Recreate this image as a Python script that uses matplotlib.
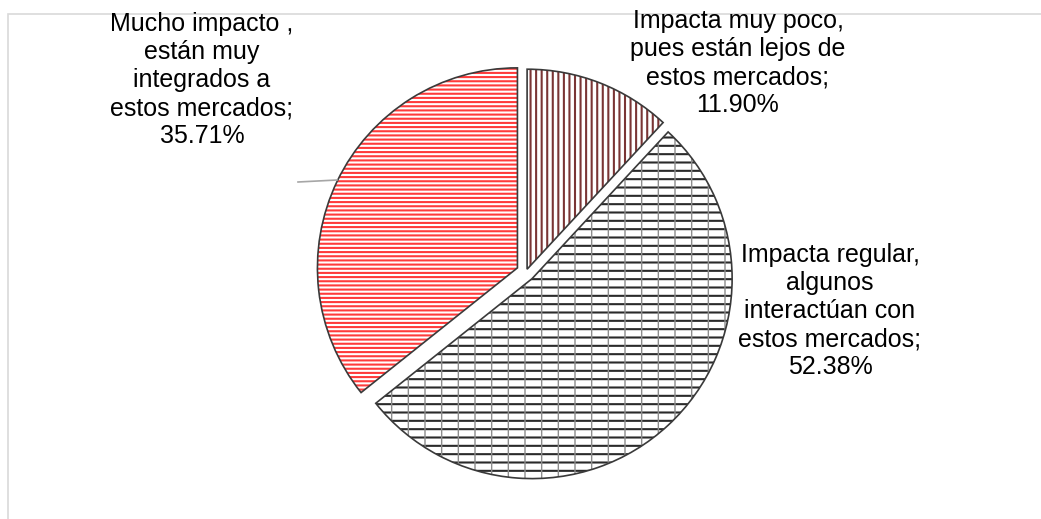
import matplotlib
matplotlib.use("Agg")
import matplotlib.pyplot as plt
from matplotlib.patches import Rectangle

# ---- data ----
categories = [
    "Impacta muy poco,\npues están lejos de\nestos mercados;",
    "Impacta regular,\nalgunos\ninteractúan con\nestos mercados;",
    "Mucho impacto ,\nestán muy\nintegrados a\nestos mercados;",
]
values = [11.90, 52.38, 35.71]

# ---- styles ----
hatches = ["|||", "--", "----"]
hatch_colors = ["#7a3535", "#2a2a2a", "#ff3b3b"]
label_pos = [(738, 456), (830, 208), (202, 439)]

W, H = 1041, 519
fig = plt.figure(figsize=(W / 100, H / 100), dpi=100)
ax = fig.add_axes([0, 0, 1, 1])

center = (526, 247)
radius = 200
explode = [3, 9, 9.5]

wedges, _ = ax.pie(values, radius=radius, center=center, startangle=90,
                   counterclock=False, explode=explode, frame=True,
                   wedgeprops=dict(facecolor="white", linewidth=0))
for w, h, c in zip(wedges, hatches, hatch_colors):
    w.set_hatch(h)
    w.set_edgecolor(c)
    w.set_linewidth(0)
    if hasattr(w, "set_hatch_linewidth"):
        w.set_hatch_linewidth(1.5)

# light vertical ticks texture for the middle slice
tex, _ = ax.pie(values, radius=radius, center=center, startangle=90,
                counterclock=False, explode=explode, frame=True,
                wedgeprops=dict(fill=False, linewidth=0))
for i, w in enumerate(tex):
    if i == 1:
        w.set_hatch("|")
        w.set_edgecolor("#8c8c8c")
        if hasattr(w, "set_hatch_linewidth"):
            w.set_hatch_linewidth(1.0)
    else:
        w.set_visible(False)

outl, _ = ax.pie(values, radius=radius, center=center, startangle=90,
                 counterclock=False, explode=explode, frame=True,
                 wedgeprops=dict(fill=False, edgecolor="#3a3a3a", linewidth=1.2))

# labels
for cat, v, (x, y) in zip(categories, values, label_pos):
    ax.text(x, y, f"{cat}\n{v:.2f}%", ha="center", va="center",
            fontsize=18, family=["Liberation Sans", "DejaVu Sans"],
            linespacing=1.22, color="black")

# leader line for the left label
ax.plot([298, 337], [337, 339], color="#a6a6a6", lw=1.2)

ax.set_xlim(0, W)
ax.set_ylim(0, H)
ax.set_aspect("equal", adjustable="box")
ax.set_axis_off()

# chart-area frame
fig.patches.append(Rectangle((8 / W, -0.1), 1.2, (H - 14) / H + 0.1,
                             transform=fig.transFigure, fill=False,
                             edgecolor="#d9d9d9", lw=1.2, zorder=-1))

fig.savefig("out.png", dpi=100, facecolor="white")
